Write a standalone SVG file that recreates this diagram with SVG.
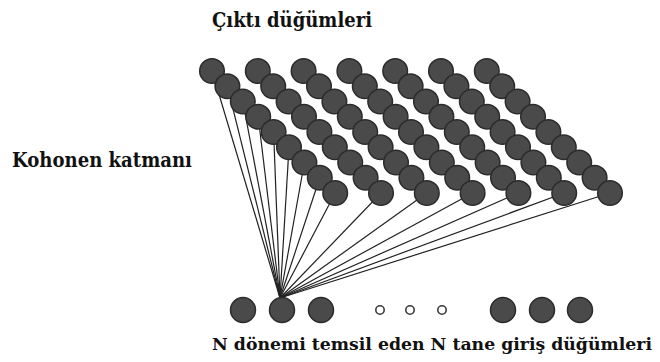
<svg xmlns="http://www.w3.org/2000/svg" width="660" height="362" viewBox="0 0 660 362">
<style>
.n{fill:#4a4a4a;stroke:#2b2b2b;stroke-width:1.5}
.s{fill:#fff;stroke:#3a3a3a;stroke-width:1.6}
.c line{stroke:#222;stroke-width:1.2}
.t{font-family:"DejaVu Serif","Liberation Serif","Times New Roman",serif;font-weight:bold;font-size:19.5px;fill:#111}
</style>
<rect width="660" height="362" fill="#fff"/>
<text class="t" x="212" y="27" textLength="160" lengthAdjust="spacingAndGlyphs">Çıktı düğümleri</text>
<text class="t" x="12" y="167" textLength="180" lengthAdjust="spacingAndGlyphs">Kohonen katmanı</text>
<text class="t" x="212" y="350" style="font-size:17.2px" textLength="440" lengthAdjust="spacingAndGlyphs">N dönemi temsil eden N tane giriş düğümleri</text>
<g id="connectors" class="c">
<line x1="280" y1="298" x2="212" y2="71"/>
<line x1="280" y1="298" x2="227.4" y2="86.3"/>
<line x1="280" y1="298" x2="242.8" y2="101.5"/>
<line x1="280" y1="298" x2="258.2" y2="116.8"/>
<line x1="280" y1="298" x2="273.6" y2="132"/>
<line x1="280" y1="298" x2="289" y2="147.3"/>
<line x1="280" y1="298" x2="304.4" y2="162.5"/>
<line x1="280" y1="298" x2="319.8" y2="177.8"/>
<line x1="280" y1="298" x2="335.2" y2="193"/>
<line x1="280" y1="298" x2="381" y2="193"/>
<line x1="280" y1="298" x2="426.8" y2="193"/>
<line x1="280" y1="298" x2="472.6" y2="193"/>
<line x1="280" y1="298" x2="518.4" y2="193"/>
<line x1="280" y1="298" x2="564.2" y2="193"/>
<line x1="280" y1="298" x2="610" y2="193"/>
</g>
<g id="col0">
<g id="o0-0"><circle class="n" cx="212" cy="71" r="12.3"/></g>
<g id="o0-1"><circle class="n" cx="227.4" cy="86.3" r="12.3"/></g>
<g id="o0-2"><circle class="n" cx="242.8" cy="101.5" r="12.3"/></g>
<g id="o0-3"><circle class="n" cx="258.2" cy="116.8" r="12.3"/></g>
<g id="o0-4"><circle class="n" cx="273.6" cy="132" r="12.3"/></g>
<g id="o0-5"><circle class="n" cx="289" cy="147.3" r="12.3"/></g>
<g id="o0-6"><circle class="n" cx="304.4" cy="162.5" r="12.3"/></g>
<g id="o0-7"><circle class="n" cx="319.8" cy="177.8" r="12.3"/></g>
<g id="o0-8"><circle class="n" cx="335.2" cy="193" r="12.3"/></g>
</g>
<g id="col1">
<g id="o1-0"><circle class="n" cx="257.8" cy="71" r="12.3"/></g>
<g id="o1-1"><circle class="n" cx="273.2" cy="86.3" r="12.3"/></g>
<g id="o1-2"><circle class="n" cx="288.6" cy="101.5" r="12.3"/></g>
<g id="o1-3"><circle class="n" cx="304" cy="116.8" r="12.3"/></g>
<g id="o1-4"><circle class="n" cx="319.4" cy="132" r="12.3"/></g>
<g id="o1-5"><circle class="n" cx="334.8" cy="147.3" r="12.3"/></g>
<g id="o1-6"><circle class="n" cx="350.2" cy="162.5" r="12.3"/></g>
<g id="o1-7"><circle class="n" cx="365.6" cy="177.8" r="12.3"/></g>
<g id="o1-8"><circle class="n" cx="381" cy="193" r="12.3"/></g>
</g>
<g id="col2">
<g id="o2-0"><circle class="n" cx="303.6" cy="71" r="12.3"/></g>
<g id="o2-1"><circle class="n" cx="319" cy="86.3" r="12.3"/></g>
<g id="o2-2"><circle class="n" cx="334.4" cy="101.5" r="12.3"/></g>
<g id="o2-3"><circle class="n" cx="349.8" cy="116.8" r="12.3"/></g>
<g id="o2-4"><circle class="n" cx="365.2" cy="132" r="12.3"/></g>
<g id="o2-5"><circle class="n" cx="380.6" cy="147.3" r="12.3"/></g>
<g id="o2-6"><circle class="n" cx="396" cy="162.5" r="12.3"/></g>
<g id="o2-7"><circle class="n" cx="411.4" cy="177.8" r="12.3"/></g>
<g id="o2-8"><circle class="n" cx="426.8" cy="193" r="12.3"/></g>
</g>
<g id="col3">
<g id="o3-0"><circle class="n" cx="349.4" cy="71" r="12.3"/></g>
<g id="o3-1"><circle class="n" cx="364.8" cy="86.3" r="12.3"/></g>
<g id="o3-2"><circle class="n" cx="380.2" cy="101.5" r="12.3"/></g>
<g id="o3-3"><circle class="n" cx="395.6" cy="116.8" r="12.3"/></g>
<g id="o3-4"><circle class="n" cx="411" cy="132" r="12.3"/></g>
<g id="o3-5"><circle class="n" cx="426.4" cy="147.3" r="12.3"/></g>
<g id="o3-6"><circle class="n" cx="441.8" cy="162.5" r="12.3"/></g>
<g id="o3-7"><circle class="n" cx="457.2" cy="177.8" r="12.3"/></g>
<g id="o3-8"><circle class="n" cx="472.6" cy="193" r="12.3"/></g>
</g>
<g id="col4">
<g id="o4-0"><circle class="n" cx="395.2" cy="71" r="12.3"/></g>
<g id="o4-1"><circle class="n" cx="410.6" cy="86.3" r="12.3"/></g>
<g id="o4-2"><circle class="n" cx="426" cy="101.5" r="12.3"/></g>
<g id="o4-3"><circle class="n" cx="441.4" cy="116.8" r="12.3"/></g>
<g id="o4-4"><circle class="n" cx="456.8" cy="132" r="12.3"/></g>
<g id="o4-5"><circle class="n" cx="472.2" cy="147.3" r="12.3"/></g>
<g id="o4-6"><circle class="n" cx="487.6" cy="162.5" r="12.3"/></g>
<g id="o4-7"><circle class="n" cx="503" cy="177.8" r="12.3"/></g>
<g id="o4-8"><circle class="n" cx="518.4" cy="193" r="12.3"/></g>
</g>
<g id="col5">
<g id="o5-0"><circle class="n" cx="441" cy="71" r="12.3"/></g>
<g id="o5-1"><circle class="n" cx="456.4" cy="86.3" r="12.3"/></g>
<g id="o5-2"><circle class="n" cx="471.8" cy="101.5" r="12.3"/></g>
<g id="o5-3"><circle class="n" cx="487.2" cy="116.8" r="12.3"/></g>
<g id="o5-4"><circle class="n" cx="502.6" cy="132" r="12.3"/></g>
<g id="o5-5"><circle class="n" cx="518" cy="147.3" r="12.3"/></g>
<g id="o5-6"><circle class="n" cx="533.4" cy="162.5" r="12.3"/></g>
<g id="o5-7"><circle class="n" cx="548.8" cy="177.8" r="12.3"/></g>
<g id="o5-8"><circle class="n" cx="564.2" cy="193" r="12.3"/></g>
</g>
<g id="col6">
<g id="o6-0"><circle class="n" cx="486.8" cy="71" r="12.3"/></g>
<g id="o6-1"><circle class="n" cx="502.2" cy="86.3" r="12.3"/></g>
<g id="o6-2"><circle class="n" cx="517.6" cy="101.5" r="12.3"/></g>
<g id="o6-3"><circle class="n" cx="533" cy="116.8" r="12.3"/></g>
<g id="o6-4"><circle class="n" cx="548.4" cy="132" r="12.3"/></g>
<g id="o6-5"><circle class="n" cx="563.8" cy="147.3" r="12.3"/></g>
<g id="o6-6"><circle class="n" cx="579.2" cy="162.5" r="12.3"/></g>
<g id="o6-7"><circle class="n" cx="594.6" cy="177.8" r="12.3"/></g>
<g id="o6-8"><circle class="n" cx="610" cy="193" r="12.3"/></g>
</g>
<g id="inputs">
<g id="i1"><circle class="n" cx="243" cy="310" r="12.5"/></g>
<g id="i2"><circle class="n" cx="282" cy="310" r="12.5"/></g>
<g id="i3"><circle class="n" cx="321" cy="310" r="12.5"/></g>
<g id="d1"><circle class="s" cx="380" cy="310" r="4.2"/></g>
<g id="d2"><circle class="s" cx="410" cy="310" r="4.2"/></g>
<g id="d3"><circle class="s" cx="442" cy="310" r="4.2"/></g>
<g id="i4"><circle class="n" cx="503" cy="310" r="12.5"/></g>
<g id="i5"><circle class="n" cx="542" cy="310" r="12.5"/></g>
<g id="i6"><circle class="n" cx="580" cy="310" r="12.5"/></g>
</g>
</svg>
